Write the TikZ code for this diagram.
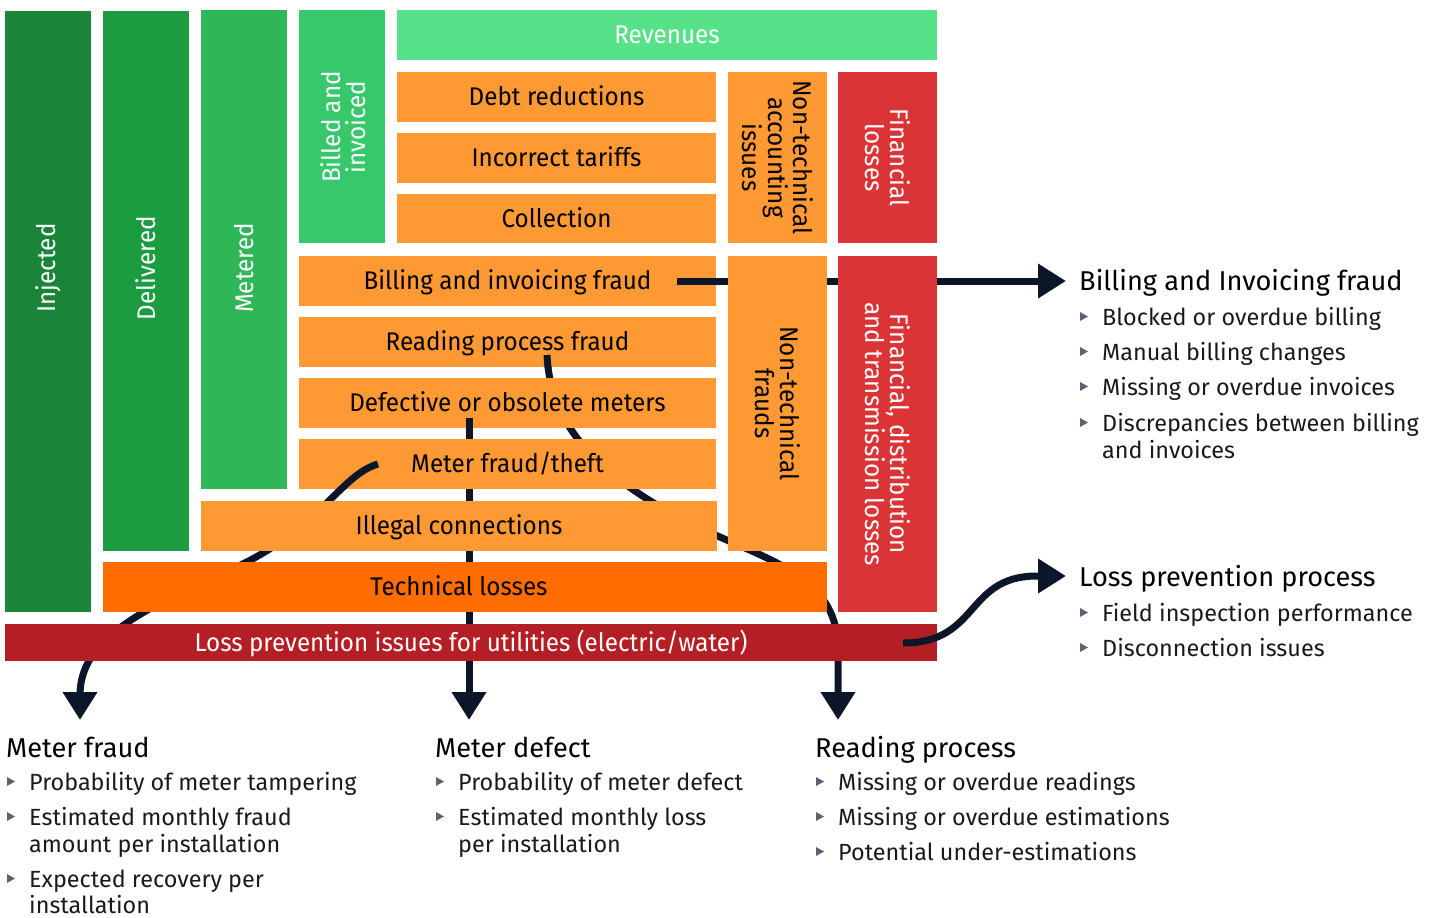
\documentclass[tikz,border=0pt]{standalone}
\usepackage{fontspec}
\setmainfont{Fira Sans}
\newfontfamily\boxff{Fira Sans}[FakeStretch=0.95]
\usetikzlibrary{arrows.meta}
\pgfdeclarelayer{bg}
\pgfdeclarelayer{fg}
\pgfsetlayers{bg,main,fg}
\definecolor{cInj}{HTML}{1A8438}
\definecolor{cDel}{HTML}{1C9C40}
\definecolor{cMet}{HTML}{2FB757}
\definecolor{cBil}{HTML}{37C86C}
\definecolor{cRev}{HTML}{57E189}
\definecolor{cOra}{HTML}{FF9933}
\definecolor{cTec}{HTML}{FF6C00}
\definecolor{cRed}{HTML}{DB3437}
\definecolor{cLpi}{HTML}{B41E25}
\definecolor{cLine}{HTML}{0B1628}
\definecolor{cBul}{HTML}{5A6372}
\definecolor{cTxt}{HTML}{1A1A1A}
\newcommand\bxf{\boxff\fontsize{25.5}{25}\selectfont}
\newcommand\hdf{\fontsize{27.2}{27}\selectfont}
\newcommand\itf{\fontsize{23.4}{27}\selectfont}
\newcommand\mybul[1]{\fill[cBul] ([xshift=-22pt,yshift=4pt]#1.base west) -- ++(0,-9) -- ++(8,4.5) -- cycle;}
\newcommand\pathBif{(sBif) -- (tBif)}
\newcommand\pathRpf{(sRpf) .. controls (550,420) and (590,470) .. (680,518) .. controls (760,560) and (838,570) .. (838,650) -- (tRpf)}
\newcommand\pathDom{(sDom) -- (tDom)}
\newcommand\pathMft{(sMft) .. controls (340,475) and (320,530) .. (230,570) .. controls (140,610) and (80,640) .. (80,695) -- (tMft)}
\begin{document}
\begin{tikzpicture}[x=1pt,y=-1pt,
  box/.style={rectangle, inner sep=0pt, outer sep=0pt, anchor=north west, font=\bxf, text height=17.5pt, text depth=0pt},
  obox/.style={box, fill=cOra, text=black},
  lab/.style={inner sep=0pt, font=\bxf, text height=17.5pt, text depth=0pt},
  vlab/.style={inner sep=0pt, font=\bxf, align=center},
  conn/.style={draw=cLine, line width=7pt},
  arr/.style={conn, -{Triangle[length=28pt,width=33pt]}},
  head/.style={inner sep=0pt, anchor=base west, font=\hdf, text=black},
  item/.style={inner sep=0pt, anchor=base west, font=\itf, text=cTxt},
]
\useasboundingbox (0,0) rectangle (1435,918);
% boxes
\node[box, fill=cInj, minimum width=86pt, minimum height=601pt] (inj) at (5,11) {};
\node[box, fill=cDel, minimum width=86pt, minimum height=540pt] (del) at (103,11) {};
\node[box, fill=cMet, minimum width=86pt, minimum height=479pt] (met) at (201,10) {};
\node[box, fill=cBil, minimum width=86pt, minimum height=233pt] (bil) at (299,10) {};
\node[box, fill=cRev, text=white, minimum width=540pt, minimum height=50pt] (rev) at (397,10) {Revenues};
\node[obox, minimum width=319pt, minimum height=50pt] (debt) at (397,72) {Debt reductions};
\node[obox, minimum width=319pt, minimum height=50pt] (tar) at (397,133) {Incorrect tariffs};
\node[obox, minimum width=319pt, minimum height=49pt] (col) at (397,194) {Collection};
\node[obox, minimum width=99pt, minimum height=171pt] (ntacc) at (728,72) {};
\node[box, fill=cRed, minimum width=99pt, minimum height=171pt] (finl) at (838,72) {};
\node[obox, minimum width=417pt, minimum height=50pt] (bif) at (299,256) {Billing and invoicing fraud};
\node[obox, minimum width=417pt, minimum height=50pt] (rpf) at (299,317) {Reading process fraud};
\node[obox, minimum width=417pt, minimum height=50pt] (dom) at (299,378) {Defective or obsolete meters};
\node[obox, minimum width=417pt, minimum height=50pt] (mft) at (299,439) {Meter fraud/theft};
\node[obox, minimum width=516pt, minimum height=50pt] (ilc) at (201,501) {Illegal connections};
\node[obox, minimum width=99pt, minimum height=295pt] (ntf) at (728,256) {};
\node[box, fill=cRed, minimum width=99pt, minimum height=356pt] (fdt) at (838,256) {};
\node[box, fill=cTec, minimum width=724pt, minimum height=50pt] (tech) at (103,562) {};
\node[box, fill=cLpi, text=white, minimum width=932pt, minimum height=37pt] (lpi) at (5,624) {Loss prevention issues for utilities (electric/water)};
% labels
\node[vlab, rotate=90, text=white] (tInj) at (48,268) {Injected};
\node[vlab, rotate=90, text=white] (tDel) at (146,268) {Delivered};
\node[vlab, rotate=90, text=white] (tMet) at (244,268) {Metered};
\node[vlab, rotate=90, text=white] (tBil) at (343,127) {Billed and\\invoiced};
\node[vlab, rotate=-90, text=black] (tNta) at (ntacc.center) {Non-technical\\accounting\\issues};
\node[vlab, rotate=-90, text=white] (tFin) at (finl.center) {Financial\\losses};
\node[vlab, rotate=-90, text=black] (tNtf) at (ntf.center) {Non-technical\\frauds};
\node[vlab, rotate=-90, text=white] (tFdt) at (fdt.center) {Financial, distribution\\and transmission losses};
\node[lab, text=black] (tTec) at (459,587) {Technical losses};
% connector ends
\coordinate (sBif) at (677,281); \coordinate (tBif) at (1066,281);
\coordinate (sRpf) at (547,355); \coordinate (tRpf) at (838,720);
\coordinate (sDom) at (469,418); \coordinate (tDom) at (469,720);
\coordinate (sMft) at (378,464); \coordinate (tMft) at (80,720);
\coordinate (sLpi) at (903,643); \coordinate (tLpi) at (1066,576);
% connectors behind the boxes
\begin{pgfonlayer}{bg}
\draw[arr] \pathBif;
\draw[arr] \pathRpf;
\draw[arr] \pathDom;
\draw[arr] \pathMft;
\end{pgfonlayer}
% connector starts over their own boxes
\begin{pgfonlayer}{fg}
\begin{scope}\clip (bif.north west) rectangle (bif.south east); \draw[conn] \pathBif; \end{scope}
\begin{scope}\clip (rpf.north west) rectangle (rpf.south east); \draw[conn] \pathRpf; \end{scope}
\begin{scope}\clip (dom.north west) rectangle (dom.south east); \draw[conn] \pathDom; \end{scope}
\begin{scope}\clip (mft.north west) rectangle (mft.south east); \draw[conn] \pathMft; \end{scope}
\draw[arr] (sLpi) .. controls (980,643) and (965,576) .. (1037,576) -- (tLpi);
\end{pgfonlayer}
% right lists
\node[head] (hBif) at (1079,290) {Billing and Invoicing fraud};
\node[item] (b1) at (1102,325) {Blocked or overdue billing}; \mybul{b1}
\node[item] (b2) at (1102,360) {Manual billing changes}; \mybul{b2}
\node[item] (b3) at (1102,395) {Missing or overdue invoices}; \mybul{b3}
\node[item] (b4) at (1102,431) {Discrepancies between billing}; \mybul{b4}
\node[item] (b4b) at (1102,458) {and invoices};
\node[head] (hLpp) at (1079,586) {Loss prevention process};
\node[item] (l1) at (1102,621) {Field inspection performance}; \mybul{l1}
\node[item] (l2) at (1102,656) {Disconnection issues}; \mybul{l2}
% bottom lists
\node[head] (hMf) at (6,757) {Meter fraud};
\node[item] (m1) at (29,790) {Probability of meter tampering}; \mybul{m1}
\node[item] (m2) at (29,825) {Estimated monthly fraud}; \mybul{m2}
\node[item] (m2b) at (29,852) {amount per installation};
\node[item] (m3) at (29,887) {Expected recovery per}; \mybul{m3}
\node[item] (m3b) at (29,913) {installation};
\node[head] (hMd) at (435,757) {Meter defect};
\node[item] (d1) at (458,790) {Probability of meter defect}; \mybul{d1}
\node[item] (d2) at (458,825) {Estimated monthly loss}; \mybul{d2}
\node[item] (d2b) at (458,852) {per installation};
\node[head] (hRp) at (815,757) {Reading process};
\node[item] (r1) at (838,790) {Missing or overdue readings}; \mybul{r1}
\node[item] (r2) at (838,825) {Missing or overdue estimations}; \mybul{r2}
\node[item] (r3) at (838,860) {Potential under-estimations}; \mybul{r3}
\end{tikzpicture}
\end{document}
